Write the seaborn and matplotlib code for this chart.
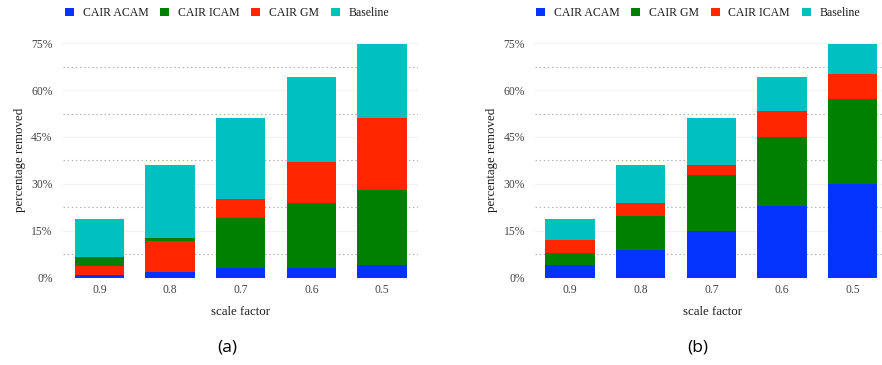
import matplotlib
matplotlib.use("Agg")
import matplotlib.pyplot as plt
from matplotlib.patches import Patch
import pandas as pd
import seaborn as sns

# Scale factors on the x axis
scales = ["0.9", "0.8", "0.7", "0.6", "0.5"]

# Percentage of content removed (cumulative totals per method)
baseline = [18.8, 36.0, 51.0, 64.2, 74.8]

a_acam = [0.8, 1.8, 2.9, 2.9, 3.9]
a_icam = [6.6, 12.7, 18.9, 23.9, 28.0]
a_gm = [3.8, 11.8, 25.1, 37.0, 51.0]

b_acam = [4.0, 8.9, 14.9, 22.9, 30.1]
b_gm = [7.9, 19.7, 32.9, 45.0, 57.1]
b_icam = [11.9, 23.9, 36.0, 53.2, 65.1]

y_ticks = [0, 15, 30, 45, 60, 75]
y_minor = [7.5, 22.5, 37.5, 52.5, 67.5]

BLUE, GREEN, RED, CYAN = "#0433FF", "#008000", "#FF2600", "#00C0C0"

sns.set_theme(style="white")
plt.rcParams["font.family"] = ["Liberation Serif", "DejaVu Serif"]

W, H = 882, 365
fig = plt.figure(figsize=(W / 100, H / 100), dpi=100)


def px_axes(left, right, y0, y75):
    # axes rectangle from pixel positions; y0/y75 are rows of the 0% and 75% lines
    ppu = (y0 - y75) / 75.0
    top = y0 - 75.5 * ppu
    return [left / W, (H - y0) / H, (right - left) / W, (y0 - top) / H]


def panel(ax, series, labels, colors, xlim):
    frames = []
    for name, vals in zip(labels, series):
        frames.append(pd.DataFrame({"scale": scales, "value": vals, "method": name}))
    df = pd.concat(frames, ignore_index=True)
    sns.barplot(data=df, x="scale", y="value", hue="method", order=scales,
                hue_order=labels, palette=colors, dodge=False, width=0.7,
                saturation=1, legend=False, linewidth=0, ax=ax)
    # taller bars go behind shorter ones
    for p in ax.patches:
        p.set_zorder(3 - p.get_height() / 100.0)
    ax.set_ylim(0, 75.5)
    ax.set_xlim(*xlim)
    ax.set_yticks(y_ticks)
    ax.set_yticklabels([f"{t}%" for t in y_ticks])
    ax.set_yticks(y_minor, minor=True)
    ax.set_axisbelow(True)
    ax.grid(axis="y", which="major", color="#F2F2F2", lw=0.9)
    ax.grid(axis="y", which="minor", color="#B0B0B0", lw=0.8, ls=(0, (1.3, 2.4)))
    ax.grid(axis="x", visible=False)
    for s in ax.spines.values():
        s.set_visible(False)
    ax.tick_params(axis="both", which="both", length=0, labelsize=8.4,
                   labelcolor="#444444")
    ax.tick_params(axis="x", pad=5)
    ax.tick_params(axis="y", pad=7.5)
    ax.set_xlabel("scale factor", fontsize=9.3, color="#1A1A1A", labelpad=7)
    ax.set_ylabel("percentage removed", fontsize=9.3, color="#1A1A1A", labelpad=4)


ax_a = fig.add_axes(px_axes(63, 418, 277.5, 43.3))
ax_b = fig.add_axes(px_axes(535.3, 890, 277.5, 43.3))

labels_a = ["CAIR ACAM", "CAIR ICAM", "CAIR GM", "Baseline"]
labels_b = ["CAIR ACAM", "CAIR GM", "CAIR ICAM", "Baseline"]
colors = [BLUE, GREEN, RED, CYAN]

panel(ax_a, [a_acam, a_icam, a_gm, baseline], labels_a, colors, (-0.517, 4.51))
panel(ax_b, [b_acam, b_gm, b_icam, baseline], labels_b, colors, (-0.493, 4.53))

for labels, cx in ((labels_a, 227), (labels_b, 698)):
    handles = [Patch(facecolor=c, edgecolor="none") for c in colors]
    fig.legend(handles, labels, loc="center", bbox_to_anchor=(cx / W, 1 - 13 / H),
               ncol=4, frameon=False, fontsize=8.5, handlelength=0.76,
               handleheight=0.76, handletextpad=0.73, columnspacing=1.0,
               borderaxespad=0, borderpad=0, labelcolor="#1A1A1A")

fig.text(227 / W, 1 - 347 / H, "(a)", ha="center", va="center", fontsize=12.5,
         family=["Open Sans", "DejaVu Sans"], color="black")
fig.text(698 / W, 1 - 347 / H, "(b)", ha="center", va="center", fontsize=12.5,
         family=["Open Sans", "DejaVu Sans"], color="black")

fig.savefig("out.png", dpi=100)
